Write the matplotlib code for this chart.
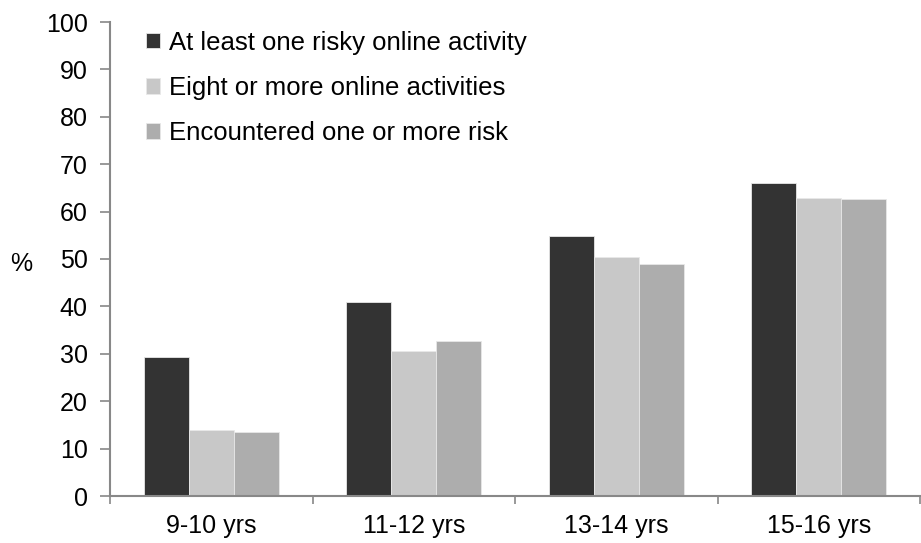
import matplotlib
matplotlib.use("Agg")
import matplotlib.pyplot as plt
import numpy as np

categories = ["9-10 yrs", "11-12 yrs", "13-14 yrs", "15-16 yrs"]
series_names = ["At least one risky online activity",
                "Eight or more online activities",
                "Encountered one or more risk"]
risky = [29.3, 41.0, 54.8, 66.0]
eight_plus = [13.9, 30.6, 50.5, 62.9]
encountered = [13.5, 32.6, 48.9, 62.7]
colors = ["#333333", "#C8C8C8", "#ADADAD"]

plt.rcParams['font.family'] = ['Liberation Sans', 'DejaVu Sans']

fig = plt.figure(figsize=(9.21, 5.43), dpi=100)
ax = fig.add_axes([110/921, 1-496/543, 810/921, (496-22)/543])

x = np.arange(len(categories))
w = 0.222
for i, (vals, name) in enumerate(zip([risky, eight_plus, encountered], series_names)):
    ax.bar(x + (i-1)*w, vals, width=w, color=colors[i], edgecolor="#E8E8E8",
           linewidth=0.6, label=name, zorder=2)

ax.set_xlim(-0.5, 3.5)
ax.set_ylim(0, 100)
ax.set_yticks(np.arange(0, 101, 10))
ax.set_xticks(x)
ax.set_xticklabels(categories)
ax.set_xticks(np.arange(-0.5, 3.6, 1), minor=True)
ax.tick_params(axis='x', which='major', length=0, labelsize=18, pad=13, colors='#000000')
ax.tick_params(axis='x', which='minor', length=6, width=1.2, color='#888888')
ax.tick_params(axis='y', length=7, width=1.2, color='#888888', labelsize=18, pad=9)
for s in ['top', 'right']:
    ax.spines[s].set_visible(False)
for s in ['left', 'bottom']:
    ax.spines[s].set_color('#888888')
    ax.spines[s].set_linewidth(1.5)

ax.set_ylabel("%", rotation=0, fontsize=18, labelpad=0, va='center', ha='center')
ax.yaxis.set_label_coords(-0.11, 0.49)

leg = ax.legend(loc='upper left', bbox_to_anchor=(0.025, 1.014), frameon=False,
                fontsize=18.5, handlelength=0.55, handleheight=0.55, handletextpad=0.35,
                labelspacing=0.82, borderaxespad=0.2)

fig.savefig("out.png", dpi=100)
